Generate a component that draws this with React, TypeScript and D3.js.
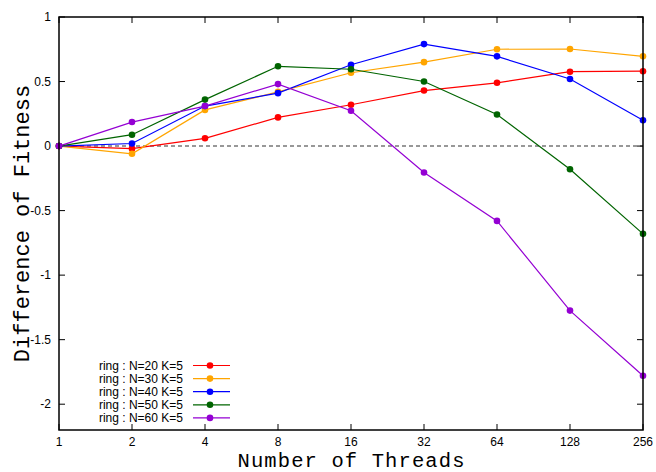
import React, { useRef, useEffect } from 'react';
import * as d3 from 'd3';

const threads = [1, 2, 4, 8, 16, 32, 64, 128, 256];
const yTicks = [1, 0.5, 0, -0.5, -1, -1.5, -2];

const seriesNames = [
    'ring : N=20 K=5',
    'ring : N=30 K=5',
    'ring : N=40 K=5',
    'ring : N=50 K=5',
    'ring : N=60 K=5',
];
const seriesColors = ['#ff0000', '#ffa500', '#0000ff', '#006400', '#9400d3'];

const n20 = [0, -0.02, 0.06, 0.222, 0.32, 0.43, 0.49, 0.576, 0.58];
const n30 = [0, -0.06, 0.28, 0.42, 0.568, 0.65, 0.75, 0.752, 0.695];
const n40 = [0, 0.02, 0.31, 0.41, 0.63, 0.79, 0.695, 0.52, 0.2];
const n50 = [0, 0.088, 0.36, 0.618, 0.595, 0.5, 0.245, -0.18, -0.68];
const n60 = [0, 0.186, 0.31, 0.48, 0.274, -0.205, -0.58, -1.275, -1.78];
const seriesValues = [n20, n30, n40, n50, n60];

const W = 656;
const H = 472;
const margin = { top: 17, right: 13, bottom: 42, left: 59 };

const App = () => {
    const ref = useRef(null);

    useEffect(() => {
        const svg = d3.select(ref.current);
        svg.selectAll('*').remove();

        const x = d3.scaleLog().base(2).domain([1, 256]).range([margin.left, W - margin.right]);
        const y = d3.scaleLinear().domain([-2.2, 1]).range([H - margin.bottom, margin.top]);
        const x0 = margin.left, x1 = W - margin.right;
        const y0 = H - margin.bottom, y1 = margin.top;
        const tickLen = 6;
        const sans = 'Liberation Sans, Arial, sans-serif';
        const mono = 'Liberation Mono, Courier New, monospace';

        // zero line
        svg.append('line')
            .attr('x1', x0).attr('x2', x1)
            .attr('y1', y(0)).attr('y2', y(0))
            .attr('stroke', '#777').attr('stroke-width', 1.5)
            .attr('stroke-dasharray', '4,3');

        // ticks (mirrored on all sides)
        const ticks = svg.append('g').attr('stroke', '#000').attr('stroke-width', 1);
        threads.forEach(t => {
            ticks.append('line').attr('x1', x(t)).attr('x2', x(t)).attr('y1', y0).attr('y2', y0 - tickLen);
            ticks.append('line').attr('x1', x(t)).attr('x2', x(t)).attr('y1', y1).attr('y2', y1 + tickLen);
        });
        yTicks.forEach(v => {
            ticks.append('line').attr('x1', x0).attr('x2', x0 + tickLen).attr('y1', y(v)).attr('y2', y(v));
            ticks.append('line').attr('x1', x1).attr('x2', x1 - tickLen).attr('y1', y(v)).attr('y2', y(v));
        });

        svg.append('g').selectAll('text').data(threads).enter().append('text')
            .attr('x', d => x(d)).attr('y', y0 + 16)
            .attr('text-anchor', 'middle')
            .style('font-family', sans).style('font-size', '12px')
            .text(d => d);

        svg.append('g').selectAll('text').data(yTicks).enter().append('text')
            .attr('x', x0 - 8).attr('y', d => y(d) + 4)
            .attr('text-anchor', 'end')
            .style('font-family', sans).style('font-size', '12px')
            .text(d => d);

        // series
        const line = d3.line<number>()
            .x((d, i) => x(threads[i]))
            .y(d => y(d));
        seriesValues.forEach((vals, s) => {
            const g = svg.append('g');
            g.append('path').datum(vals)
                .attr('d', line)
                .attr('fill', 'none')
                .attr('stroke', seriesColors[s])
                .attr('stroke-width', 1.2);
            g.selectAll('circle').data(vals).enter().append('circle')
                .attr('cx', (d, i) => x(threads[i]))
                .attr('cy', d => y(d))
                .attr('r', 3.3)
                .attr('fill', seriesColors[s]);
        });

        // frame
        svg.append('rect')
            .attr('x', x0).attr('y', y1)
            .attr('width', x1 - x0).attr('height', y0 - y1)
            .attr('fill', 'none').attr('stroke', '#000').attr('stroke-width', 1.5);

        // legend
        const leg = svg.append('g');
        seriesNames.forEach((name, i) => {
            const ly = 365.5 + i * 13.1;
            leg.append('text')
                .attr('x', 183).attr('y', ly + 4.3)
                .attr('text-anchor', 'end')
                .style('font-family', sans).style('font-size', '12px')
                .text(name);
            leg.append('line')
                .attr('x1', 193).attr('x2', 230)
                .attr('y1', ly).attr('y2', ly)
                .attr('stroke', seriesColors[i]).attr('stroke-width', 1.2);
            leg.append('circle')
                .attr('cx', 210).attr('cy', ly).attr('r', 3.3)
                .attr('fill', seriesColors[i]);
        });

        // axis labels
        svg.append('text')
            .attr('x', (x0 + x1) / 2).attr('y', 466.5)
            .attr('text-anchor', 'middle')
            .attr('textLength', 227).attr('lengthAdjust', 'spacing')
            .style('font-family', mono).style('font-size', '20.5px')
            .text('Number of Threads');
        svg.append('text')
            .attr('transform', `translate(29,${(y0 + y1) / 2}) rotate(-90)`)
            .attr('text-anchor', 'middle')
            .style('font-family', mono).style('font-size', '22px')
            .text('Difference of Fitness');
    }, []);

    return (
        <div style={{ position: 'absolute', left: 0, top: 0 }}>
            <svg ref={ref} width={W} height={H} style={{ display: 'block', background: '#fff' }} />
        </div>
    );
};

export default App;
